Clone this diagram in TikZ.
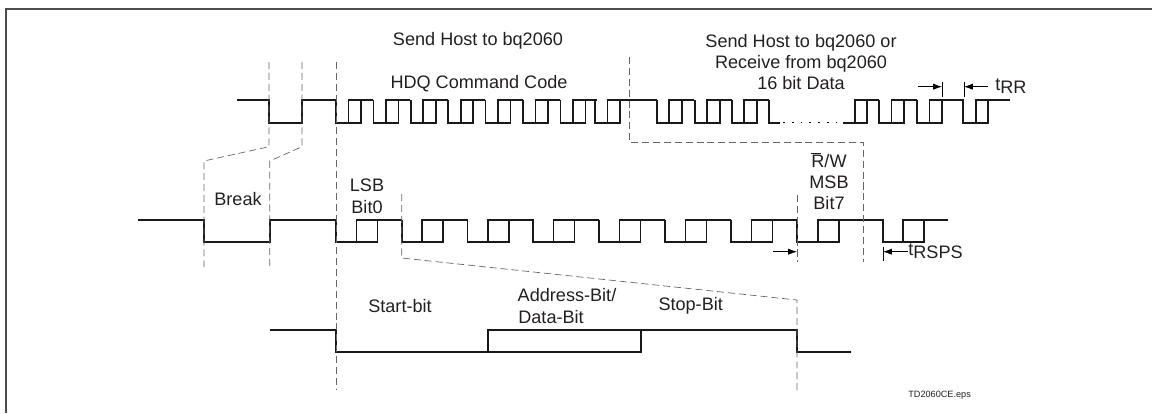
\documentclass[tikz,border=0pt]{standalone}
\usepackage{fontspec}
\setmainfont{Liberation Sans}
\usetikzlibrary{arrows.meta}
\definecolor{ink}{HTML}{231F20}
\begin{document}
\begin{tikzpicture}[x=.02cm,y=-.02cm,
    wave/.style={line width=.95pt,black!90,line join=miter},
    guide/.style={line width=.4pt,black!60,dash pattern=on 4pt off 2.2pt},
    tick/.style={line width=.4pt,black},
    timing/.style={line width=.4pt,black,-{Latex[length=5pt,width=3.5pt]}},
    lbl/.style={font=\fontsize{10.3}{12}\selectfont,text=ink,inner sep=0pt,align=center},
    small/.style={font=\fontsize{5.2}{6}\selectfont,text=ink,inner sep=0pt}]
    \useasboundingbox (0,0) rectangle (1152,413);

    % frame
    \draw[line width=.9pt,black!70] (6,413) -- (6,9) -- (1152,9);

    % top waveform
    \draw[wave] (237,100) -- (269,100) -- (269,122.7) -- (302,122.7) -- (302,100) -- (336,100);
    \foreach \fall in {336,373.4,410.8,448.2,485.6,523,560.4,595}{
        \draw[wave] (\fall,100) -- (\fall,122.7) -- (\fall+12.5,122.7) -- (\fall+12.5,100) -- (\fall+37,100);
        \draw[wave] (\fall+12.5,122.7) -- (\fall+25,122.7) -- (\fall+25,100);
    }
    \draw[wave] (632,100) -- (656.7,100);
    \foreach \fall in {656.7,694.7,731.7,879,917}{
        \draw[wave] (\fall,100) -- (\fall,122.7) -- (\fall+12.5,122.7) -- (\fall+12.5,100) -- (\fall+37.5,100);
        \draw[wave] (\fall+12.5,122.7) -- (\fall+25,122.7) -- (\fall+25,100);
    }
    \draw[wave] (769,100) -- (769,122.7) -- (780,122.7);
    \draw[line width=.9pt,black,dash pattern=on 1pt off 4pt] (783,122.7) -- (842,122.7);
    \draw[wave] (843,122.7) -- (855,122.7) -- (855,100) -- (879,100);
    \draw[wave] (855,122.7) -- (867,122.7) -- (867,100);
    \draw[wave] (954,100) -- (963,100) -- (963,122.7) -- (976,122.7) -- (976,100) -- (1010,100);
    \draw[wave] (976,122.7) -- (988,122.7) -- (988,100);

    % middle waveform
    \draw[wave] (138,219.7) -- (204,219.7) -- (204,241.7) -- (270,241.7) -- (270,219.7) -- (336,219.7);
    \foreach \fall in {336,401.7,467.5,533,599,665,731}{
        \draw[wave] (\fall,219.7) -- (\fall,241.7) -- (\fall+20.5,241.7) -- (\fall+20.5,219.7) -- (\fall+66,219.7);
        \draw[wave] (\fall+20.5,241.7) -- (\fall+41.5,241.7) -- (\fall+41.5,219.7);
    }
    \draw[wave] (797,219.7) -- (797,241.7) -- (817.7,241.7) -- (817.7,219.7) -- (883,219.7) -- (883,241.7) -- (903,241.7) -- (903,219.7) -- (948,219.7);
    \draw[wave] (817.7,241.7) -- (838.7,241.7) -- (838.7,219.7);
    \draw[wave] (903,241.7) -- (924,241.7) -- (924,219.7);

    % bottom waveform
    \draw[wave] (270,330) -- (336,330) -- (336,352.3) -- (640.7,352.3) -- (640.7,330);
    \draw[wave] (488,352.3) -- (488,330) -- (796.7,330) -- (796.7,352.3) -- (850.7,352.3);

    % guides
    \draw[guide] (269,62) -- (269,146.7) -- (204,161) -- (204,267.7);
    \draw[guide] (302,62) -- (302,146.7) -- (269.7,161) -- (269.7,267.7);
    \draw[guide] (336,62) -- (336,389);
    \draw[guide] (629,57) -- (629,142) -- (863,142) -- (863,262);
    \draw[guide] (401.7,194) -- (401.7,258) -- (797,300) -- (797,393);
    \draw[guide] (797,195) -- (797,262);

    % timing marks
    \draw[tick] (942,82) -- (942,97);
    \draw[tick] (964,82) -- (964,97);
    \draw[tick] (883,247) -- (883,261);
    \coordinate (rrA) at (918,86.7);
    \coordinate (rrB) at (942,86.7);
    \coordinate (rrC) at (988,86.7);
    \coordinate (rrD) at (964,86.7);
    \coordinate (spA) at (773,251.7);
    \coordinate (spB) at (797,251.7);
    \coordinate (spC) at (908,251.7);
    \coordinate (spD) at (883,251.7);
    \draw[timing] (rrA) -- (rrB);
    \draw[timing] (rrC) -- (rrD);
    \draw[timing] (spA) -- (spB);
    \draw[timing] (spC) -- (spD);

    % labels
    \node[lbl] (sendhost) at (478,41) {Send Host to bq2060};
    \node[lbl] (hdqcode) at (479,84) {HDQ Command Code};
    \node[lbl] (sendrecv) at (801,62) {Send Host to bq2060 or\\[0pt]Receive from bq2060\\[0pt]16 bit Data};
    \node[lbl,anchor=west] (trr) at (995,86) {t\raisebox{-2pt}{RR}};
    \node[lbl] (rwbar) at (829,160) {\rlap{\rule[8pt]{5.5pt}{.4pt}}R/W};
    \node[lbl] (msb) at (829,182) {MSB};
    \node[lbl] (bitseven) at (829,203) {Bit7};
    \node[lbl] (breaklbl) at (238,199) {Break};
    \node[lbl] (lsb) at (367,185) {LSB};
    \node[lbl] (bitzero) at (367,207) {Bit0};
    \node[lbl,anchor=west] (trsps) at (908,251) {t\raisebox{-2pt}{RSPS}};
    \node[lbl] (startbit) at (400,306) {Start-bit};
    \node[lbl] (addrbit) at (567,295) {Address-Bit/};
    \node[lbl,anchor=west] (databit) at (518,317) {Data-Bit};
    \node[lbl] (stopbit) at (690.7,306) {Stop-Bit};
    \node[small,anchor=west] (epsname) at (908,395) {TD2060CE.eps};
\end{tikzpicture}
\end{document}
